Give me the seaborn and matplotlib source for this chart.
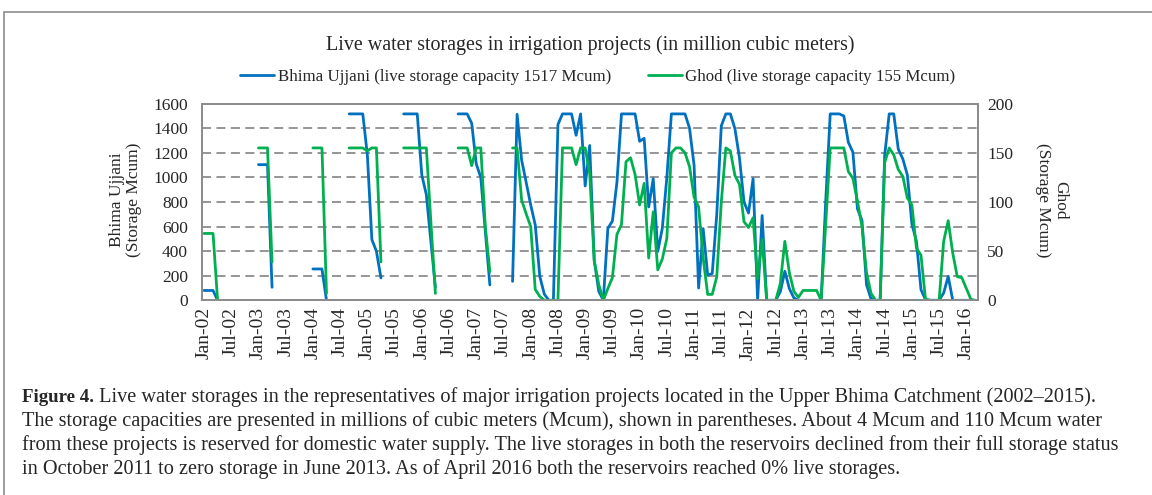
import numpy as np
import pandas as pd
import matplotlib
matplotlib.use("Agg")
import matplotlib.pyplot as plt
import seaborn as sns
from matplotlib.lines import Line2D
from matplotlib.patches import Rectangle

nan = np.nan

# Monthly values, Jan-02 ... Mar-16 (171 months); nan = no record
bhima_ujjani = (
    [80, 80, 80, 0] + [nan] * 8 +
    [1104, 1104, 1104, 106] + [nan] * 8 +
    [255, 255, 255, 0] + [nan] * 4 +
    [1517, 1517, 1517, 1517, 1185, 494, 399, 182] + [nan] * 4 +
    [1517, 1517, 1517, 1517, 1020, 860, 480, 105] + [nan] * 4 +
    [1517, 1517, 1517, 1440, 1110, 1000, 560, 125] + [nan] * 4 +
    [154, 1514, 1141, 960, 776, 614, 195, 50, 0, 0,
     1430, 1517, 1517, 1517, 1343, 1517, 930, 1260, 325, 73,
     0, 585, 645, 960, 1517, 1517, 1517, 1517, 1294, 1318,
     760, 990, 398, 586, 1000, 1517, 1517, 1517, 1517, 1400,
     1100, 100, 583, 205, 218, 700, 1420, 1517, 1517, 1397,
     1160, 800, 710, 990, 0, 690, 0, 0, 0, 70,
     236, 95, 19, 0, 0, 0, 0, 0, 0, 800,
     1517, 1517, 1517, 1500, 1285, 1205, 745, 650, 127, 10,
     0, 0, 1180, 1517, 1517, 1230, 1150, 1020, 620, 480,
     87, 5, 0, 0, 0, 60, 195, 0, 0, 0,
     0, 0, nan]
)

ghod = (
    [68, 68, 68, 0] + [nan] * 8 +
    [155, 155, 155, 39] + [nan] * 8 +
    [155, 155, 155, 7] + [nan] * 4 +
    [155, 155, 155, 155, 152, 155, 155, 39] + [nan] * 4 +
    [155, 155, 155, 155, 155, 155, 80, 7] + [nan] * 4 +
    [155, 155, 155, 137, 155, 155, 75, 29] + [nan] * 4 +
    [155, 155, 102, 88, 75, 11, 4, 0, 0, 0,
     0, 155, 155, 155, 138, 155, 155, 129, 40, 16,
     0, 12, 23, 67, 77, 141, 145, 128, 97, 119,
     43, 90, 31, 42, 63, 150, 155, 155, 150, 136,
     105, 95, 43, 6, 6, 24, 100, 155, 152, 127,
     118, 80, 74, 84, 22, 62, 0, 0, 0, 17,
     60, 28, 9, 3, 10, 10, 10, 10, 0, 77,
     155, 155, 155, 155, 131, 124, 101, 75, 28, 7,
     0, 0, 140, 155, 148, 133, 126, 104, 97, 53,
     46, 1, 0, 0, 0, 60, 81, 48, 24, 23,
     12, 1, 0]
)

tick_labels = ["Jan-02", "Jul-02", "Jan-03", "Jul-03", "Jan-04", "Jul-04",
               "Jan-05", "Jul-05", "Jan-06", "Jul-06", "Jan-07", "Jul-07",
               "Jan-08", "Jul-08", "Jan-09", "Jul-09", "Jan-10", "Jul-10",
               "Jan-11", "Jul-11", "Jan-12", "Jul-12", "Jan-13", "Jul-13",
               "Jan-14", "Jul-14", "Jan-15", "Jul-15", "Jan-16"]

series_names = ["Bhima Ujjani (live storage capacity 1517 Mcum)",
                "Ghod (live storage capacity 155 Mcum)"]

BLUE = "#0070C0"
GREEN = "#00B050"
GRAY = "#8c8c8c"


def to_long(vals):
    s = pd.Series(vals, dtype=float)
    seg = s.isna().cumsum()
    df = pd.DataFrame({"i": np.arange(len(s)), "v": s, "seg": seg})
    return df.dropna()


sns.set_style("white")
plt.rcParams["font.family"] = ["Liberation Serif", "DejaVu Serif"]

fig = plt.figure(figsize=(11.52, 4.95), dpi=100)
L, R, T, B = 201.7, 977.7, 103.7, 300.3
ax = fig.add_axes([L / 1152, 1 - B / 495, (R - L) / 1152, (B - T) / 495])
ax2 = ax.twinx()

n = len(bhima_ujjani)
sns.lineplot(data=to_long(bhima_ujjani), x="i", y="v", units="seg", estimator=None,
             color=BLUE, lw=2, ax=ax, legend=False, sort=False)
sns.lineplot(data=to_long(ghod), x="i", y="v", units="seg", estimator=None,
             color=GREEN, lw=2, ax=ax2, legend=False, sort=False)

ax.set_xlim(-0.5, n - 0.5)
ax.set_ylim(0, 1600)
ax2.set_ylim(0, 200)
ax.set_yticks(np.arange(0, 1601, 200))
ax2.set_yticks(np.arange(0, 201, 50))
ax.set_xlabel("")
ax.set_ylabel("")
ax2.set_ylabel("")

# x tick marks at category boundaries
ax.set_xticks(np.arange(-0.5, n, 6))
ax.set_xticklabels([])
ax.set_xticks(np.arange(-0.5, n, 1), minor=True)
ax.tick_params(axis="x", which="major", length=5, width=1.1, color=GRAY, direction="out")
ax.tick_params(axis="x", which="minor", length=2.5, width=1.0, color=GRAY, direction="out")
ax.tick_params(axis="y", length=0, labelsize=12.5, pad=10)
ax2.tick_params(axis="y", length=0, labelsize=12.5, pad=7)

sec = ax.secondary_xaxis("bottom")
sec.set_xticks(np.arange(0, n, 6))
sec.set_xticklabels(tick_labels, rotation=90, fontsize=14)
sec.tick_params(length=0, pad=5)
sec.spines["bottom"].set_visible(False)

ax.yaxis.grid(True, linestyle=(0, (5, 3)), color=GRAY, lw=1.3)
ax.xaxis.grid(False)
for a in (ax, ax2):
    for sp in a.spines.values():
        sp.set_visible(True)
        sp.set_color(GRAY)
        sp.set_linewidth(1.3)

fig.text(L / 1152 - 0.066, 1 - 200 / 495, "Bhima Ujjani\n(Storage Mcum)", rotation=90,
         ha="center", va="center", fontsize=12.5, linespacing=1.1)
fig.text(1052 / 1152, 1 - 200 / 495, "Ghod\n(Storage Mcum)", rotation=-90,
         ha="center", va="center", fontsize=12.5, linespacing=1.1)

fig.text(590 / 1152, 1 - 45 / 495,
         "Live water storages in irrigation projects (in million cubic meters)",
         ha="center", va="center", fontsize=14.4)

handles = [Line2D([], [], color=BLUE, lw=2), Line2D([], [], color=GREEN, lw=2)]
fig.legend(handles, series_names, loc="center", bbox_to_anchor=(598 / 1152, 1 - 77 / 495),
           ncol=2, frameon=False, fontsize=12.2, handlelength=2.0, handletextpad=0.2,
           columnspacing=2.2)

# figure frame
fig.patches.append(Rectangle((4 / 1152, -0.1), 1.2, 1 - 12 / 495 + 0.1,
                             transform=fig.transFigure, fill=False,
                             edgecolor=GRAY, lw=1.2))

caption_lines = [
    (" Live water storages in the representatives of major irrigation projects located in the Upper Bhima Catchment (2002\u20132015)."),
    "The storage capacities are presented in millions of cubic meters (Mcum), shown in parentheses. About 4 Mcum and 110 Mcum water",
    "from these projects is reserved for domestic water supply. The live storages in both the reservoirs declined from their full storage status",
    "in October 2011 to zero storage in June 2013. As of April 2016 both the reservoirs reached 0% live storages.",
]
cap_fs = 14.6
x0 = 22 / 1152
ys = [397, 421, 445, 469]
fig.canvas.draw()
renderer = fig.canvas.get_renderer()
bold = fig.text(x0, 1 - ys[0] / 495, "Figure 4.", fontweight="bold", fontsize=13.6,
                ha="left", va="center")
bb = bold.get_window_extent(renderer=renderer)
fig.text(bb.x1 / 1152, 1 - ys[0] / 495, caption_lines[0], fontsize=cap_fs,
         ha="left", va="center")
for line, y in zip(caption_lines[1:], ys[1:]):
    fig.text(x0, 1 - y / 495, line, fontsize=cap_fs, ha="left", va="center")

fig.savefig("out.png", dpi=100)
